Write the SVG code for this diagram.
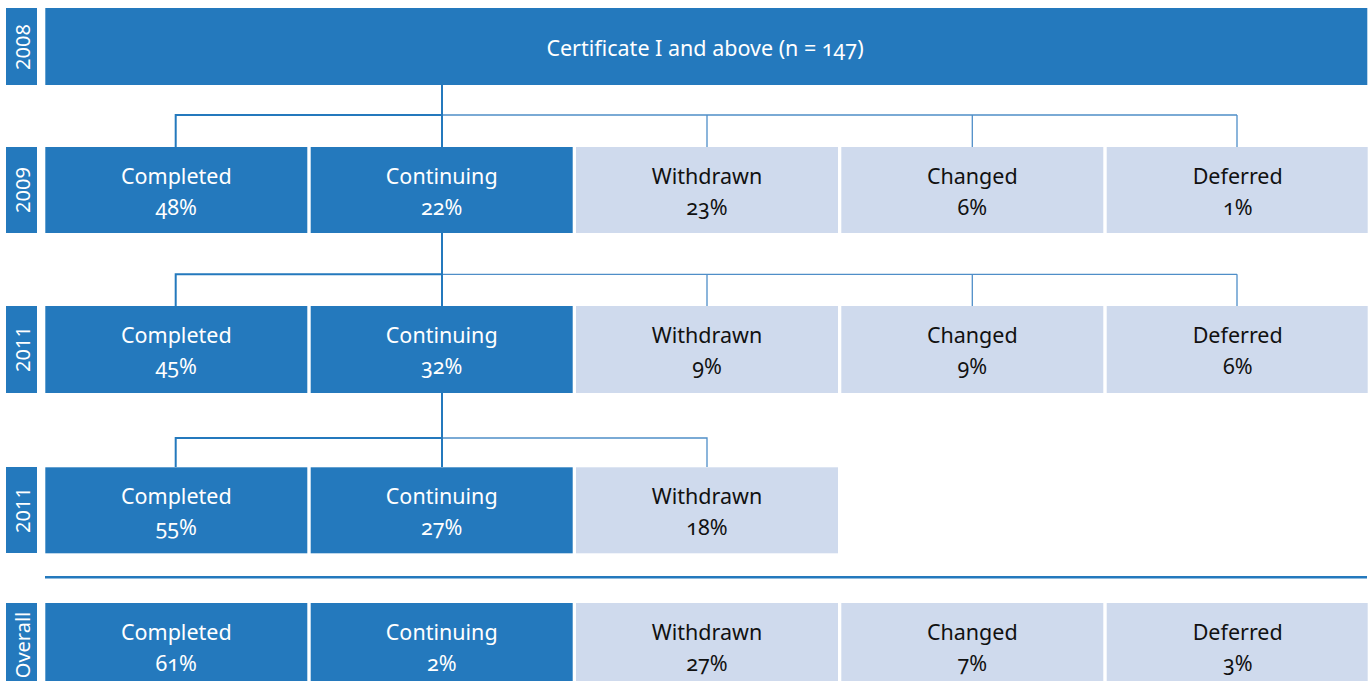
<svg xmlns="http://www.w3.org/2000/svg" width="1370" height="681" viewBox="0 0 1370 681">
  <style>
    .dark { fill: #2479bd; }
    .light { fill: #cfdaed; }
    .yr { fill: #2479bd; }
    .t { font-family: "Noto Sans", "Open Sans", sans-serif; font-size: 21.5px; text-anchor: middle; font-variant-numeric: oldstyle-nums; }
    .tw { fill: #ffffff; }
    .tb { fill: #111111; }
    .yt { font-family: "Noto Sans", "Open Sans", sans-serif; font-size: 20px; fill: #ffffff; text-anchor: middle; dominant-baseline: central; }
    .c1 { stroke: #2479bd; stroke-width: 2; fill: none; }
    .c2 { stroke: #4f8ec8; stroke-width: 1.3; fill: none; }
  </style>

  <!-- year labels -->
  <g id="label-2008"><rect class="yr" x="6" y="8" width="31" height="77"/><text class="yt" transform="translate(22,47) rotate(-90)">2008</text></g>
  <g id="label-2009"><rect class="yr" x="6" y="147" width="31" height="86"/><text class="yt" transform="translate(22,190) rotate(-90)">2009</text></g>
  <g id="label-2011a"><rect class="yr" x="6" y="306" width="31" height="87"/><text class="yt" transform="translate(22,349) rotate(-90)">2011</text></g>
  <g id="label-2011b"><rect class="yr" x="6" y="467" width="31" height="86"/><text class="yt" transform="translate(22,510) rotate(-90)">2011</text></g>
  <g id="label-overall"><rect class="yr" x="6" y="603" width="31" height="90"/><text class="yt" transform="translate(22,645) rotate(-90)">Overall</text></g>

  <!-- connectors -->
  <g id="connectors">
    <path class="c2" d="M442 115 H1237 M707 115 V147 M972.3 115 V147 M1237 115 V147"/>
    <path class="c1" d="M442 85 V147 M175.7 147 V115 H442"/>
    <path class="c2" d="M442 274.3 H1237 M707 274.3 V306 M972.3 274.3 V306 M1237 274.3 V306"/>
    <path class="c1" d="M442 233 V306 M175.7 306 V274.3 H442"/>
    <path class="c2" d="M442 438 H707 V467"/>
    <path class="c1" d="M442 393 V467 M175.7 467 V438 H442"/>
    <line x1="45" y1="577.3" x2="1367" y2="577.3" stroke="#2479bd" stroke-width="2.6"/>
  </g>

  <!-- 2008 -->
  <g id="root">
    <rect class="dark" x="45.3" y="8" width="1322" height="77"/>
    <text class="t tw" x="705" y="56">Certificate I and above (n = 147)</text>
  </g>

  <!-- 2009 -->
  <g id="y2009-completed"><rect class="dark" x="45.3" y="147" width="262" height="86"/><text class="t tw" x="176.3" y="184">Completed</text><text class="t tw" x="176.3" y="215">48%</text></g>
  <g id="y2009-continuing"><rect class="dark" x="310.7" y="147" width="262" height="86"/><text class="t tw" x="441.7" y="184">Continuing</text><text class="t tw" x="441.7" y="215">22%</text></g>
  <g id="y2009-withdrawn"><rect class="light" x="576" y="147" width="262" height="86"/><text class="t tb" x="707" y="184">Withdrawn</text><text class="t tb" x="707" y="215">23%</text></g>
  <g id="y2009-changed"><rect class="light" x="841.3" y="147" width="262" height="86"/><text class="t tb" x="972.3" y="184">Changed</text><text class="t tb" x="972.3" y="215">6%</text></g>
  <g id="y2009-deferred"><rect class="light" x="1106.7" y="147" width="261" height="86"/><text class="t tb" x="1237.7" y="184">Deferred</text><text class="t tb" x="1237.7" y="215">1%</text></g>

  <!-- 2011 (continuing students) -->
  <g id="y2011a-completed"><rect class="dark" x="45.3" y="306" width="262" height="87"/><text class="t tw" x="176.3" y="343">Completed</text><text class="t tw" x="176.3" y="374">45%</text></g>
  <g id="y2011a-continuing"><rect class="dark" x="310.7" y="306" width="262" height="87"/><text class="t tw" x="441.7" y="343">Continuing</text><text class="t tw" x="441.7" y="374">32%</text></g>
  <g id="y2011a-withdrawn"><rect class="light" x="576" y="306" width="262" height="87"/><text class="t tb" x="707" y="343">Withdrawn</text><text class="t tb" x="707" y="374">9%</text></g>
  <g id="y2011a-changed"><rect class="light" x="841.3" y="306" width="262" height="87"/><text class="t tb" x="972.3" y="343">Changed</text><text class="t tb" x="972.3" y="374">9%</text></g>
  <g id="y2011a-deferred"><rect class="light" x="1106.7" y="306" width="261" height="87"/><text class="t tb" x="1237.7" y="343">Deferred</text><text class="t tb" x="1237.7" y="374">6%</text></g>

  <!-- 2011 (second level) -->
  <g id="y2011b-completed"><rect class="dark" x="45.3" y="467.3" width="262" height="86"/><text class="t tw" x="176.3" y="504">Completed</text><text class="t tw" x="176.3" y="535">55%</text></g>
  <g id="y2011b-continuing"><rect class="dark" x="310.7" y="467.3" width="262" height="86"/><text class="t tw" x="441.7" y="504">Continuing</text><text class="t tw" x="441.7" y="535">27%</text></g>
  <g id="y2011b-withdrawn"><rect class="light" x="576" y="467.3" width="262" height="86"/><text class="t tb" x="707" y="504">Withdrawn</text><text class="t tb" x="707" y="535">18%</text></g>

  <!-- overall -->
  <g id="overall-completed"><rect class="dark" x="45.3" y="603" width="262" height="90"/><text class="t tw" x="176.3" y="640">Completed</text><text class="t tw" x="176.3" y="671">61%</text></g>
  <g id="overall-continuing"><rect class="dark" x="310.7" y="603" width="262" height="90"/><text class="t tw" x="441.7" y="640">Continuing</text><text class="t tw" x="441.7" y="671">2%</text></g>
  <g id="overall-withdrawn"><rect class="light" x="576" y="603" width="262" height="90"/><text class="t tb" x="707" y="640">Withdrawn</text><text class="t tb" x="707" y="671">27%</text></g>
  <g id="overall-changed"><rect class="light" x="841.3" y="603" width="262" height="90"/><text class="t tb" x="972.3" y="640">Changed</text><text class="t tb" x="972.3" y="671">7%</text></g>
  <g id="overall-deferred"><rect class="light" x="1106.7" y="603" width="261" height="90"/><text class="t tb" x="1237.7" y="640">Deferred</text><text class="t tb" x="1237.7" y="671">3%</text></g>
</svg>
